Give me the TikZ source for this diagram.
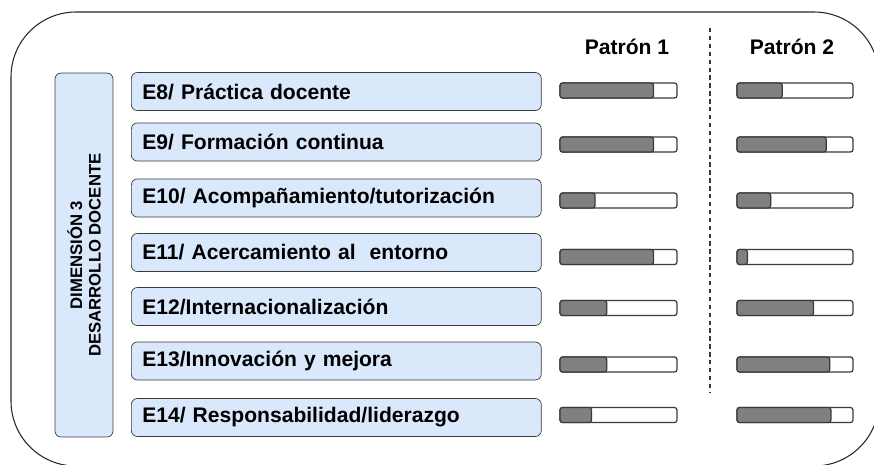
\documentclass[tikz,border=0pt]{standalone}
\usepackage{fontspec}
\setmainfont{Liberation Sans}
\definecolor{celeste}{HTML}{DAE8FC}
\definecolor{borde}{HTML}{3A3A3A}
\begin{document}
\begin{tikzpicture}[x=0.02cm,y=-0.02cm,
  item/.style={draw=borde,fill=celeste,rounded corners=0.12cm,anchor=west,
    minimum height=0.76cm,text width=7.76cm,inner xsep=0.22cm,align=left,
    font=\fontsize{12}{14}\selectfont\bfseries},
  bar/.style={draw=borde,line width=0.7pt,rounded corners=0.05cm},
  head/.style={font=\fontsize{12}{14}\selectfont\bfseries}]
\useasboundingbox (0,0) rectangle (874,464);
\draw[black!85,line width=0.6pt,rounded corners=1.3cm] (11,12) rectangle (879,466);
\node[draw=borde,fill=celeste,rounded corners=0.12cm,rotate=90,minimum width=7.28cm,
  minimum height=1.16cm,align=center,font=\fontsize{9.5}{10.5}\selectfont\bfseries]
  (dim) at (84,255) {DIMENSIÓN 3\\DESARROLLO DOCENTE};
\node[head] (p1) at (627,47) {Patrón 1};
\node[head] (p2) at (792,47) {Patrón 2};
\draw[borde,line width=0.6pt,dash pattern=on 2.5pt off 2pt] (710,28) -- (710,393);
% estandares: nombre / y caja / y barra / patron 1 / patron 2
\foreach \n/\yc/\yb/\a/\b/\t in {
  e8/91.5/90.5/0.80/0.39/{E8/ Práctica docente},
  e9/142/144.5/0.80/0.77/{E9/ Formación continua},
  e10/198/200.5/0.30/0.29/{E10/ Acompañamiento/tutorización},
  e11/252.5/257/0.80/0.09/{E11/ Acercamiento al \ entorno},
  e12/306.5/308/0.40/0.66/{E12/Internacionalización},
  e13/361/364.5/0.40/0.80/{E13/Innovación y mejora},
  e14/417.5/415/0.27/0.81/{E14/ Responsabilidad/liderazgo}}{
  \node[item] (\n) at (131,\yc) {\t};
  \draw[bar,fill=white] (560,\yb-7.5) rectangle (677,\yb+7.5);
  \draw[bar,fill=gray] (560,\yb-7.5) rectangle (560+117*\a,\yb+7.5);
  \draw[bar,fill=white] (737,\yb-7.5) rectangle (853,\yb+7.5);
  \draw[bar,fill=gray] (737,\yb-7.5) rectangle (737+116*\b,\yb+7.5);
}
\end{tikzpicture}
\end{document}
